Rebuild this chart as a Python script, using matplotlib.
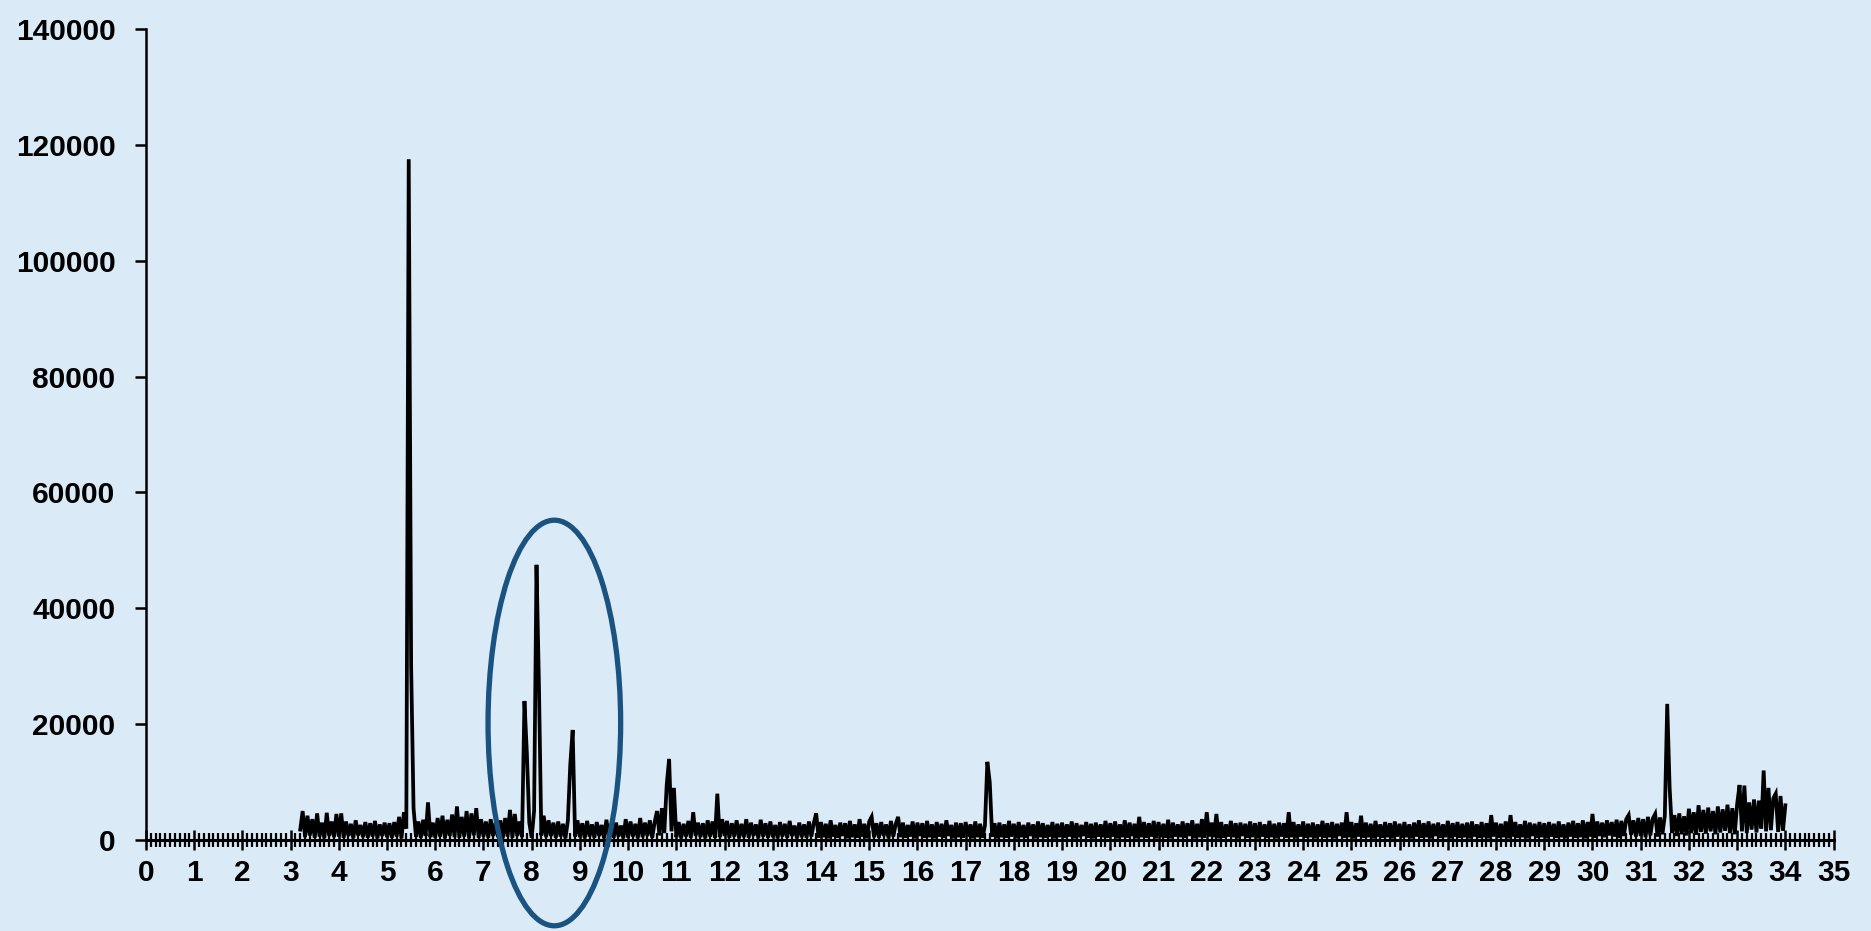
"""Recreate the chromatogram trace with the highlighted peak region."""

import matplotlib

matplotlib.use("Agg")
import matplotlib.pyplot as plt
import numpy as np
from matplotlib.patches import Ellipse

# Trace sampling (minutes)
trace_start = 3.2
trace_step = 0.05

# Intensity, one row per minute (first row starts at 3.20)
intensity = [
    1800, 5000, 500, 4200, 800, 3600, 400, 4600, 600, 3000, 300, 4700, 700, 3200, 500, 4500,
    600, 4600, 400, 3200, 700, 2800, 300, 3400, 800, 2600, 500, 3100, 400, 2900, 600, 3300, 300, 2700, 700, 3000,
    500, 2900, 400, 3100, 600, 4000, 300, 4800, 2000, 117500, 30000, 5500, 600, 3200, 400, 3500, 700, 6500, 500, 3000,
    400, 3800, 600, 4200, 300, 3500, 700, 4400, 500, 5800, 400, 4000, 600, 5000, 300, 4600, 800, 5500, 400, 3600,
    600, 3200, 400, 3600, 700, 3000, 500, 3400, 300, 3800, 600, 5200, 400, 4500, 700, 3200, 500, 24000, 15000, 3000,
    400, 5000, 47500, 27000, 800, 4200, 500, 3400, 700, 3000, 400, 3200, 600, 2800, 300, 3300, 13000, 19000, 600, 3400,
    500, 2900, 300, 3300, 600, 2700, 400, 3100, 700, 2600, 300, 3500, 500, 2800, 400, 3000, 600, 2500, 300, 3600,
    400, 3200, 600, 2800, 300, 3800, 500, 3000, 700, 3400, 400, 3100, 5000, 800, 5500, 1200, 9500, 14000, 1500, 9000,
    500, 3100, 300, 2800, 600, 3300, 400, 4800, 700, 3000, 500, 2900, 300, 3400, 600, 3200, 400, 8000, 500, 3600,
    700, 3300, 400, 2900, 600, 3400, 300, 2800, 500, 3600, 400, 3000, 700, 2700, 300, 3500, 600, 2900, 400, 3200,
    500, 2600, 300, 3100, 600, 2800, 400, 3300, 700, 2500, 300, 3000, 500, 2700, 400, 3200, 600, 2900, 4600, 400,
    3100, 500, 2800, 300, 3400, 600, 2600, 400, 3000, 700, 2900, 300, 3300, 500, 2700, 400, 3600, 600, 2800, 300,
    3200, 4000, 500, 2900, 400, 3100, 700, 2700, 300, 3300, 600, 2800, 4000, 500, 3000, 400, 2600, 600, 3200, 300,
    3000, 700, 2900, 400, 3300, 500, 2700, 300, 3100, 600, 2800, 400, 3400, 700, 2600, 300, 3000, 500, 2900, 400,
    3100, 600, 2700, 300, 3200, 500, 2800, 400, 2500, 13500, 10000, 600, 2900, 300, 3000, 500, 2700, 400, 3300, 600,
    2800, 300, 3100, 500, 2600, 400, 3000, 700, 2700, 300, 3200, 500, 2900, 400, 2600, 600, 3100, 300, 2800, 500,
    3000, 400, 2700, 600, 3200, 300, 2900, 500, 2600, 700, 3100, 400, 2800, 300, 3000, 600, 2700, 500, 3300, 400,
    2900, 600, 3200, 300, 2700, 500, 3400, 400, 3000, 700, 2800, 300, 4000, 500, 3100, 400, 2900, 600, 3300, 300,
    3100, 500, 2800, 400, 3500, 300, 3000, 600, 2700, 500, 3200, 400, 2900, 700, 3400, 300, 2800, 500, 3600, 400,
    4800, 600, 3000, 500, 4500, 300, 3100, 400, 2700, 600, 3300, 500, 2900, 300, 3000, 700, 2800, 400, 3200, 500,
    2900, 300, 3100, 600, 2700, 400, 3300, 500, 2800, 300, 3000, 600, 2900, 400, 4800, 500, 3100, 300, 2700, 600,
    3200, 400, 2800, 500, 3000, 300, 2700, 600, 3300, 400, 2900, 500, 3100, 300, 2800, 700, 3000, 400, 4800, 500,
    3100, 300, 2900, 600, 4200, 400, 3000, 500, 2800, 300, 3300, 600, 2700, 400, 3100, 500, 2900, 300, 3200, 600,
    2800, 400, 3100, 500, 2700, 300, 3000, 600, 3400, 400, 2900, 500, 3200, 300, 2800, 700, 3000, 400, 2700, 500,
    3300, 300, 2900, 600, 3100, 400, 2800, 500, 3000, 300, 3200, 600, 2700, 400, 3100, 500, 2900, 300, 4300, 600,
    3000, 400, 2800, 500, 3200, 300, 4300, 600, 3100, 400, 2700, 500, 3300, 300, 3000, 700, 2800, 400, 3100, 500,
    2900, 300, 3100, 600, 2800, 400, 3200, 500, 2700, 300, 3000, 600, 3300, 400, 2900, 500, 3400, 300, 3100, 600,
    4500, 400, 3200, 700, 3000, 500, 3400, 800, 3100, 600, 3500, 400, 3300, 700, 3600, 4300, 900, 3400, 600, 3800,
    700, 3600, 500, 4000, 800, 3700, 4500, 600, 3900, 1000, 4200, 23500, 9000, 1200, 4300, 700, 4600, 1000, 4100, 800,
    5400, 1200, 4800, 900, 6000, 1400, 5200, 1100, 5600, 1500, 5000, 1000, 5800, 1300, 5300, 1600, 6100, 1200, 5500, 1000,
    6200, 9500, 1500, 9400, 1200, 6500, 1800, 7000, 1300, 6800, 2000, 12000, 1500, 9000, 1700, 7200, 8000, 1400, 7600, 1600,
    6000,
]

x_ticks = list(range(0, 36))
y_ticks = list(range(0, 140001, 20000))

# Highlight around the 8-9 minute peaks (data units)
ellipse_center = (8.47, 20200)
ellipse_size = (2.75, 70000)

BG_COLOR = "#dbeaf7"
RING_COLOR = "#1a5280"


def plot_trace() -> None:
    """Draw the trace, axes and the highlight ring, then save to out.png."""
    plt.rcParams["font.family"] = ["Liberation Sans", "DejaVu Sans"]

    fig = plt.figure(figsize=(18.71, 9.31), dpi=100, facecolor=BG_COLOR)
    ax = fig.add_axes([0.078, 0.0977, 0.902, 0.8713])
    ax.set_facecolor(BG_COLOR)

    times = trace_start + trace_step * np.arange(len(intensity))
    ax.plot(times, intensity, color="black", linewidth=2.7, solid_joinstyle="miter")

    ring = Ellipse(ellipse_center, ellipse_size[0], ellipse_size[1], fill=False,
                   edgecolor=RING_COLOR, linewidth=3.8, clip_on=False, zorder=5)
    ax.add_patch(ring)

    ax.set_xlim(0, 35)
    ax.set_ylim(0, 140000)
    ax.set_xticks(x_ticks)
    ax.set_xticks(np.arange(0, 35.01, 0.1), minor=True)
    ax.set_yticks(y_ticks)
    ax.set_yticklabels([str(v) for v in y_ticks])

    for side in ("top", "right"):
        ax.spines[side].set_visible(False)
    ax.spines["left"].set_linewidth(1.8)
    ax.spines["bottom"].set_linewidth(2.2)

    ax.tick_params(axis="x", which="major", direction="inout", length=14, width=1.8,
                   pad=7, labelsize=21.5)
    ax.tick_params(axis="x", which="minor", direction="inout", length=10, width=1.6)
    ax.tick_params(axis="y", which="major", direction="out", length=8, width=1.8,
                   pad=14, labelsize=21.5)
    for label in ax.get_xticklabels() + ax.get_yticklabels():
        label.set_fontweight("bold")

    fig.savefig("out.png", dpi=100, facecolor=BG_COLOR)


def main() -> None:
    plot_trace()


if __name__ == "__main__":
    main()
